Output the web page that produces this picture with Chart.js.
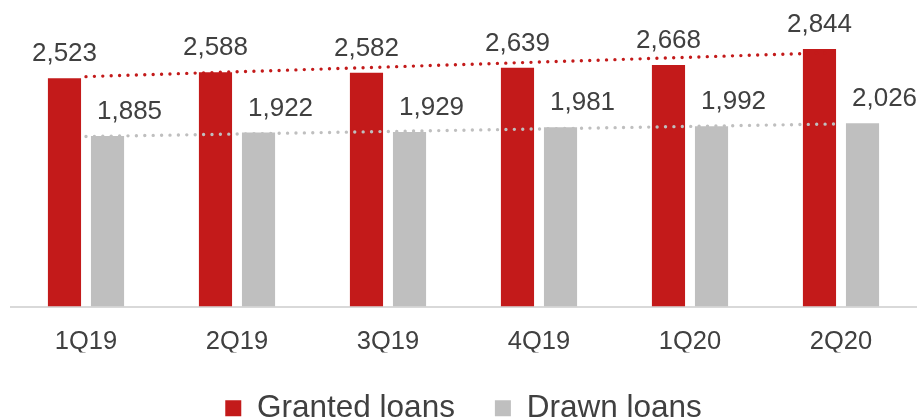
<!DOCTYPE html>
<html>
<head>
<meta charset="utf-8">
<script src="https://cdn.jsdelivr.net/npm/chart.js@4"></script>
<style>
    html, body { margin: 0; padding: 0; background: #fff; overflow: hidden; }
    #wrap { position: relative; width: 918px; height: 434px; }
</style>
</head>
<body>
<div id="wrap"><canvas id="loansChart"></canvas></div>
<script>
// Dữ liệu
const quarters = ['1Q19', '2Q19', '3Q19', '4Q19', '1Q20', '2Q20'];
const grantedLoans = [2523, 2588, 2582, 2639, 2668, 2844];
const drawnLoans = [1885, 1922, 1929, 1981, 1992, 2026];
// Đường xu hướng (chấm) - chỉ đọc điểm đầu và cuối
const grantedTrend = [2540, null, null, null, null, 2808];
const drawnTrend = [1878, null, null, null, null, 2018];

const RED = '#C31A1A';
const GREY = '#BFBFBF';
const TEXT = '#404040';
const FONT = "'Liberation Sans', Arial, sans-serif";

// Plugin vẽ nhãn giá trị trên cột (nhãn cột xám lệch sang phải như bản gốc)
const barLabels = {
    id: 'barLabels',
    afterDatasetsDraw(chart) {
        const ctx = chart.ctx;
        ctx.save();
        ctx.font = '26px ' + FONT;
        ctx.fillStyle = TEXT;
        ctx.textAlign = 'center';
        ctx.textBaseline = 'alphabetic';
        chart.data.datasets.forEach((ds, i) => {
            if (ds.type !== 'bar') return;
            const dx = ds.label === 'Drawn loans' ? 22 : 0;
            chart.getDatasetMeta(i).data.forEach((bar, j) => {
                ctx.fillText(ds.data[j].toLocaleString('en-US'), bar.x + dx, bar.y - 17);
            });
        });
        ctx.restore();
    }
};

new Chart(document.getElementById('loansChart'), {
    data: {
        labels: quarters,
        datasets: [
            {
                type: 'line',
                data: grantedTrend,
                borderColor: RED,
                borderWidth: 3.4,
                borderDash: [0, 8.4],
                borderCapStyle: 'round',
                pointRadius: 0,
                spanGaps: true,
                order: 0
            },
            {
                type: 'line',
                data: drawnTrend,
                borderColor: GREY,
                borderWidth: 3.4,
                borderDash: [0, 8.4],
                borderCapStyle: 'round',
                pointRadius: 0,
                spanGaps: true,
                order: 0
            },
            {
                type: 'bar',
                label: 'Granted loans',
                data: grantedLoans,
                backgroundColor: RED,
                categoryPercentage: 0.57,
                barPercentage: 0.77,
                order: 1
            },
            {
                type: 'bar',
                label: 'Drawn loans',
                data: drawnLoans,
                backgroundColor: GREY,
                categoryPercentage: 0.57,
                barPercentage: 0.77,
                order: 1
            }
        ]
    },
    options: {
        responsive: true,
        maintainAspectRatio: false,
        animation: false,
        layout: { padding: { left: 10.5, right: 1.5, top: 35, bottom: 0 } },
        scales: {
            x: {
                grid: { display: false, drawTicks: false },
                border: { display: true, color: '#D9D9D9', width: 2 },
                ticks: { color: TEXT, font: { family: FONT, size: 25.5 }, padding: 20 },
                afterFit(scale) { scale.height = 46; }
            },
            y: {
                display: false,
                min: 0,
                max: 3000
            }
        },
        plugins: {
            tooltip: { enabled: false },
            legend: {
                position: 'bottom',
                labels: {
                    color: TEXT,
                    font: { family: FONT, size: 31.5 },
                    boxWidth: 16,
                    boxHeight: 16,
                    padding: 40,
                    filter: item => item.text !== undefined
                }
            }
        }
    },
    plugins: [barLabels]
});
</script>
</body>
</html>
